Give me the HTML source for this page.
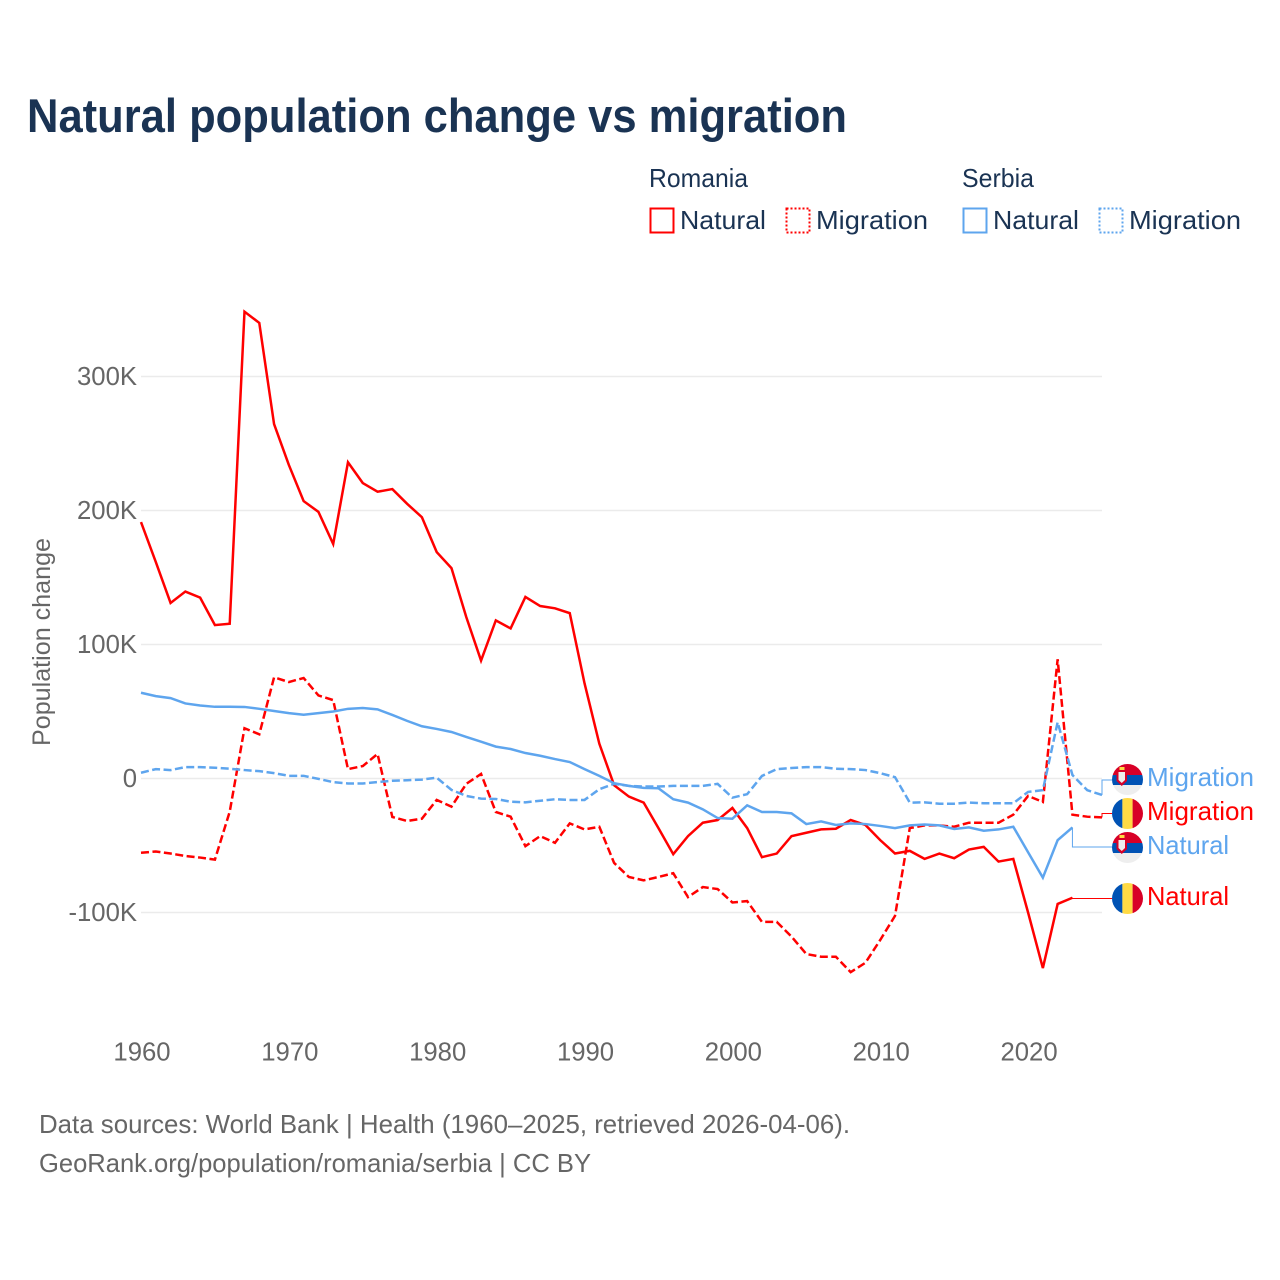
<!DOCTYPE html>
<html lang="en">
<head>
<meta charset="utf-8">
<title>Natural population change vs migration</title>
<style>
html,body{margin:0;padding:0;background:#fff;width:1280px;height:1280px;overflow:hidden}
svg{display:block}
text{font-family:"Liberation Sans",sans-serif}
</style>
</head>
<body>
<svg id="chart" xmlns="http://www.w3.org/2000/svg" width="1280" height="1280" viewBox="0 0 1280 1280">
  <defs>
    <clipPath id="flag-clip-a"><circle cx="1127.5" cy="779.5" r="15.5"/></clipPath>
    <clipPath id="flag-clip-b"><circle cx="1127.5" cy="813.5" r="15.5"/></clipPath>
    <clipPath id="flag-clip-c"><circle cx="1127.5" cy="847.5" r="15.5"/></clipPath>
    <clipPath id="flag-clip-d"><circle cx="1127.5" cy="898.5" r="15.5"/></clipPath>
  </defs>
  <rect width="1280" height="1280" fill="#fff"/>
  <text x="27" y="132" font-size="47" font-weight="700" fill="#1a3353" textLength="820" lengthAdjust="spacingAndGlyphs">Natural population change vs migration</text>

  <g font-size="26" fill="#1a3353">
    <text x="649" y="187" textLength="99" lengthAdjust="spacingAndGlyphs">Romania</text>
    <text x="962" y="187" textLength="72" lengthAdjust="spacingAndGlyphs">Serbia</text>
    <rect x="650.5" y="208.5" width="23" height="24" fill="none" stroke="#ff0000" stroke-width="2"/>
    <text x="680" y="229" textLength="86" lengthAdjust="spacingAndGlyphs">Natural</text>
    <rect x="786.5" y="208.5" width="23" height="24" fill="none" stroke="#ff0000" stroke-width="2" stroke-dasharray="2 2"/>
    <text x="816" y="229" textLength="112" lengthAdjust="spacingAndGlyphs">Migration</text>
    <rect x="963.5" y="208.5" width="23" height="24" fill="none" stroke="#5ea5ee" stroke-width="2"/>
    <text x="993" y="229" textLength="86" lengthAdjust="spacingAndGlyphs">Natural</text>
    <rect x="1099.5" y="208.5" width="23" height="24" fill="none" stroke="#5ea5ee" stroke-width="2" stroke-dasharray="2 2"/>
    <text x="1129" y="229" textLength="112" lengthAdjust="spacingAndGlyphs">Migration</text>
  </g>

  <text transform="translate(50,642) rotate(-90)" text-anchor="middle" font-size="25" fill="#666666" textLength="208" lengthAdjust="spacingAndGlyphs">Population change</text>

  <g id="grid"></g>
  <g id="y-ticks"></g>
  <g id="x-ticks"></g>
  <g id="connectors"></g>
  <g id="series"></g>

  <g clip-path="url(#flag-clip-a)">
    <rect x="1112" y="764" width="31" height="11" fill="#d80027"/>
    <rect x="1112" y="775" width="31" height="10" fill="#0052b4"/>
    <rect x="1112" y="785" width="31" height="10" fill="#eeeeee"/>
    <rect x="1119.5" y="767" width="5" height="3" fill="#ffda44"/>
    <path d="M1116.5 770h10.5v11l-5.25 5-5.25-5z" fill="#d80027"/>
    <path d="M1118.5 772h6.5v8l-3.25 3-3.25-3z" fill="#eeeeee"/>
  </g>
  <g clip-path="url(#flag-clip-b)">
    <rect x="1112" y="798" width="10.4" height="31" fill="#0052b4"/>
    <rect x="1122.4" y="798" width="10.2" height="31" fill="#ffda44"/>
    <rect x="1132.6" y="798" width="10.4" height="31" fill="#d80027"/>
  </g>
  <g clip-path="url(#flag-clip-c)">
    <rect x="1112" y="832" width="31" height="11" fill="#d80027"/>
    <rect x="1112" y="843" width="31" height="10" fill="#0052b4"/>
    <rect x="1112" y="853" width="31" height="10" fill="#eeeeee"/>
    <rect x="1119.5" y="835" width="5" height="3" fill="#ffda44"/>
    <path d="M1116.5 838h10.5v11l-5.25 5-5.25-5z" fill="#d80027"/>
    <path d="M1118.5 840h6.5v8l-3.25 3-3.25-3z" fill="#eeeeee"/>
  </g>
  <g clip-path="url(#flag-clip-d)">
    <rect x="1112" y="883" width="10.4" height="31" fill="#0052b4"/>
    <rect x="1122.4" y="883" width="10.2" height="31" fill="#ffda44"/>
    <rect x="1132.6" y="883" width="10.4" height="31" fill="#d80027"/>
  </g>

  <g font-size="26">
    <text x="1147" y="786" fill="#5ea5ee" textLength="107" lengthAdjust="spacingAndGlyphs">Migration</text>
    <text x="1147" y="820" fill="#ff0000" textLength="107" lengthAdjust="spacingAndGlyphs">Migration</text>
    <text x="1147" y="854" fill="#5ea5ee" textLength="82" lengthAdjust="spacingAndGlyphs">Natural</text>
    <text x="1147" y="905" fill="#ff0000" textLength="82" lengthAdjust="spacingAndGlyphs">Natural</text>
  </g>

  <g font-size="26" fill="#666666">
    <text x="39" y="1133" textLength="811" lengthAdjust="spacingAndGlyphs">Data sources: World Bank | Health (1960–2025, retrieved 2026-04-06).</text>
    <text x="39" y="1172" textLength="552" lengthAdjust="spacingAndGlyphs">GeoRank.org/population/romania/serbia | CC BY</text>
  </g>
</svg>

<script>
const years = [1960,1961,1962,1963,1964,1965,1966,1967,1968,1969,1970,1971,1972,1973,1974,1975,1976,1977,1978,1979,1980,1981,1982,1983,1984,1985,1986,1987,1988,1989,1990,1991,1992,1993,1994,1995,1996,1997,1998,1999,2000,2001,2002,2003,2004,2005,2006,2007,2008,2009,2010,2011,2012,2013,2014,2015,2016,2017,2018,2019,2020,2021,2022,2023,2024,2025];
const romaniaNatural = [191.4,161.6,131,139.5,135,114.5,115.5,348.4,340,264.5,234,207,199,175,236,220.5,214,216,205,195,169,157,120.5,88,118,112,135.5,128.7,127,123.4,71,26,-5,-13.5,-18,-37,-56.5,-43,-33,-31,-22,-37,-58.7,-56,-43,-40.5,-38,-37.5,-31,-34.7,-46,-56,-54,-60,-56,-59.5,-53,-51,-62,-60,-100,-141.5,-93.6,-89];
const romaniaMigration = [-55.4,-54.5,-56,-57.8,-59,-60.5,-24.8,37.5,33,75.5,72,75,62,58.5,7,9.3,18.3,-28.7,-31.7,-30,-16,-21,-4,3.4,-25,-28.5,-50.5,-43,-48,-33.5,-38,-36,-63,-73.5,-76,-73.5,-70.7,-88.5,-81,-82.5,-92.5,-91.5,-107,-107,-118,-131,-133,-133,-144.5,-137.5,-120.5,-102.5,-37,-35,-35,-36,-33,-33,-33,-27,-13,-17.5,89,-27,-28.5,-29];
const serbiaNatural = [64,61.5,60,56,54.5,53.5,53.5,53.4,52,50.4,48.8,47.6,48.8,50,52,52.6,51.6,47.4,43,39,37,34.7,31,27.5,23.8,22,19,17,14.5,12.3,7,2,-3.5,-5.5,-7,-7.3,-15.5,-18,-23,-29.5,-30,-20,-25,-25,-26,-34,-32,-34.7,-33.5,-34,-35.4,-37,-35,-34.3,-35,-37.7,-36.5,-39,-38,-36,-55,-74,-46,-36.5];
const serbiaMigration = [4.3,7,6.3,8.5,8.5,8,7.3,6.3,5.5,4,2,2,-0.3,-2.7,-3.7,-3.7,-2.7,-1.7,-1.3,-0.8,0.6,-8.5,-13,-15,-15.3,-17.3,-17.8,-16.6,-15.5,-16,-16,-8,-4,-5.5,-6,-6,-5.5,-5.5,-5.5,-4,-14.3,-11.7,1.9,7,7.8,8.5,8.5,7.3,7,6.3,4,1,-18,-17.8,-18.8,-18.8,-18,-18.5,-18.5,-18.5,-10,-8.7,42,2.6,-8.7,-12.3];
const yTickValues = [-100,0,100,200,300];
const yTickLabels = ['-100K','0','100K','200K','300K'];
const xTickValues = [1960,1970,1980,1990,2000,2010,2020];
const xTickLabels = ['1960','1970','1980','1990','2000','2010','2020'];

const SVG_NS = 'http://www.w3.org/2000/svg';
function xScale(year) { return 141 + (year - 1960) * (961 / 65); }
function yScale(value) { return 778.5 - value * 1.34; }

const gridGroup = document.getElementById('grid');
const yTickGroup = document.getElementById('y-ticks');
yTickValues.forEach(function (value, i) {
  const line = document.createElementNS(SVG_NS, 'line');
  
  
  line.setAttribute('x1', xScale(1960));
  line.setAttribute('x2', xScale(2025));
  line.setAttribute('y1', yScale(value));
  line.setAttribute('y2', yScale(value));
  line.setAttribute('stroke', '#ebebeb');
  line.setAttribute('stroke-width', '1.4');
  gridGroup.appendChild(line);
  const label = document.createElementNS(SVG_NS, 'text');
  
  
  label.setAttribute('x', 137);
  label.setAttribute('y', yScale(value) + 8.5);
  label.setAttribute('text-anchor', 'end');
  label.setAttribute('font-size', '25.7');
  label.setAttribute('fill', '#666666');
  label.textContent = yTickLabels[i];
  yTickGroup.appendChild(label);
});

const xTickGroup = document.getElementById('x-ticks');
xTickValues.forEach(function (year, i) {
  const label = document.createElementNS(SVG_NS, 'text');
  
  
  label.setAttribute('x', xScale(year) + 1);
  label.setAttribute('y', 1060.5);
  label.setAttribute('text-anchor', 'middle');
  label.setAttribute('font-size', '25.7');
  label.setAttribute('fill', '#666666');
  label.textContent = xTickLabels[i];
  xTickGroup.appendChild(label);
});

function linePath(values) {
  return values.map(function (value, i) {
    return (i ? 'L' : 'M') + xScale(years[i]).toFixed(2) + ' ' + yScale(value).toFixed(2);
  }).join(' ');
}
const seriesGroup = document.getElementById('series');
function addSeries(name, values, color, dash) {
  const path = document.createElementNS(SVG_NS, 'path');
  
  
  path.setAttribute('d', linePath(values));
  path.setAttribute('fill', 'none');
  path.setAttribute('stroke', color);
  path.setAttribute('stroke-width', '2.5');
  path.setAttribute('stroke-linejoin', 'miter');
  if (dash) path.setAttribute('stroke-dasharray', dash);
  seriesGroup.appendChild(path);
}
addSeries('line-romania-natural', romaniaNatural, '#ff0000', '');
addSeries('line-romania-migration', romaniaMigration, '#ff0000', '8 3.5');
addSeries('line-serbia-natural', serbiaNatural, '#5ea5ee', '');
addSeries('line-serbia-migration', serbiaMigration, '#5ea5ee', '8 3.5');

const connectorGroup = document.getElementById('connectors');
function addConnector(name, values, labelY, color) {
  const last = values.length - 1;
  const x = xScale(years[last]);
  const y = yScale(values[last]);
  const path = document.createElementNS(SVG_NS, 'path');
  
  
  path.setAttribute('d', 'M' + x + ' ' + y + ' L' + x + ' ' + labelY + ' L1112 ' + labelY);
  path.setAttribute('fill', 'none');
  path.setAttribute('stroke', color);
  path.setAttribute('stroke-width', '1');
  connectorGroup.appendChild(path);
}
addConnector('connector-romania-natural', romaniaNatural, 898.5, '#ff0000');
addConnector('connector-romania-migration', romaniaMigration, 813.5, '#ff0000');
addConnector('connector-serbia-natural', serbiaNatural, 847, '#5ea5ee');
addConnector('connector-serbia-migration', serbiaMigration, 780, '#5ea5ee');
</script>
</body>
</html>
